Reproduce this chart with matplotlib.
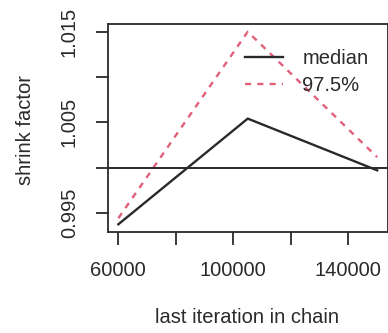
import matplotlib
matplotlib.use("Agg")
import matplotlib.pyplot as plt

plt.rcParams['font.family'] = ['Liberation Sans', 'DejaVu Sans']

# last iteration in chain
iters = [60000, 105000, 150000]
median = [0.99377, 1.00542, 0.99972]
q975 = [0.99444, 1.01500, 1.00117]

xticks = [60000, 80000, 100000, 120000, 140000]
xticklabels = ["60000", "", "100000", "", "140000"]
yticks = [0.995, 1.000, 1.005, 1.010, 1.015]
yticklabels = ["0.995", "", "1.005", "", "1.015"]

W, H = 388, 333
fig = plt.figure(figsize=(W / 100, H / 100), dpi=100)
ax = fig.add_axes([108 / W, 1 - 232 / H, 279.5 / W, 208 / H])

ax.plot(iters, median, color="#2a2a2a", lw=1.7, label="median")
ax.plot(iters, q975, color="#E0607A", lw=1.7, dashes=(2.6, 2.6), label="97.5%")
ax.axhline(1.0, color="#2a2a2a", lw=1.4)

ax.set_xlim(56400, 153600)
ax.set_ylim(0.99292, 1.01585)

ax.set_xticks(xticks)
ax.set_xticklabels(xticklabels)
ax.set_yticks(yticks)
ax.set_yticklabels(yticklabels, rotation=90, va="center")
ax.tick_params(axis="both", length=9, width=1.3, labelsize=14.5,
               colors="#2a2a2a", pad=12)
for s in ax.spines.values():
    s.set_linewidth(1.3)
    s.set_color("#2a2a2a")

ax.set_xlabel("last iteration in chain", fontsize=14.5, color="#2a2a2a", va="center")
ax.xaxis.set_label_coords(0.498, -0.413)
ax.set_ylabel("shrink factor", fontsize=14.5, color="#2a2a2a", va="center")
ax.yaxis.set_label_coords(-0.296, 0.49)

leg = ax.legend(loc="upper left", bbox_to_anchor=(245 / W, 1 - 49 / H),
                bbox_transform=fig.transFigure, frameon=False, fontsize=14.5,
                handlelength=1.9, handletextpad=0.95, labelspacing=0.42,
                borderpad=0, borderaxespad=0)
for t in leg.get_texts():
    t.set_color("#2a2a2a")

fig.savefig("out.png", dpi=100)
